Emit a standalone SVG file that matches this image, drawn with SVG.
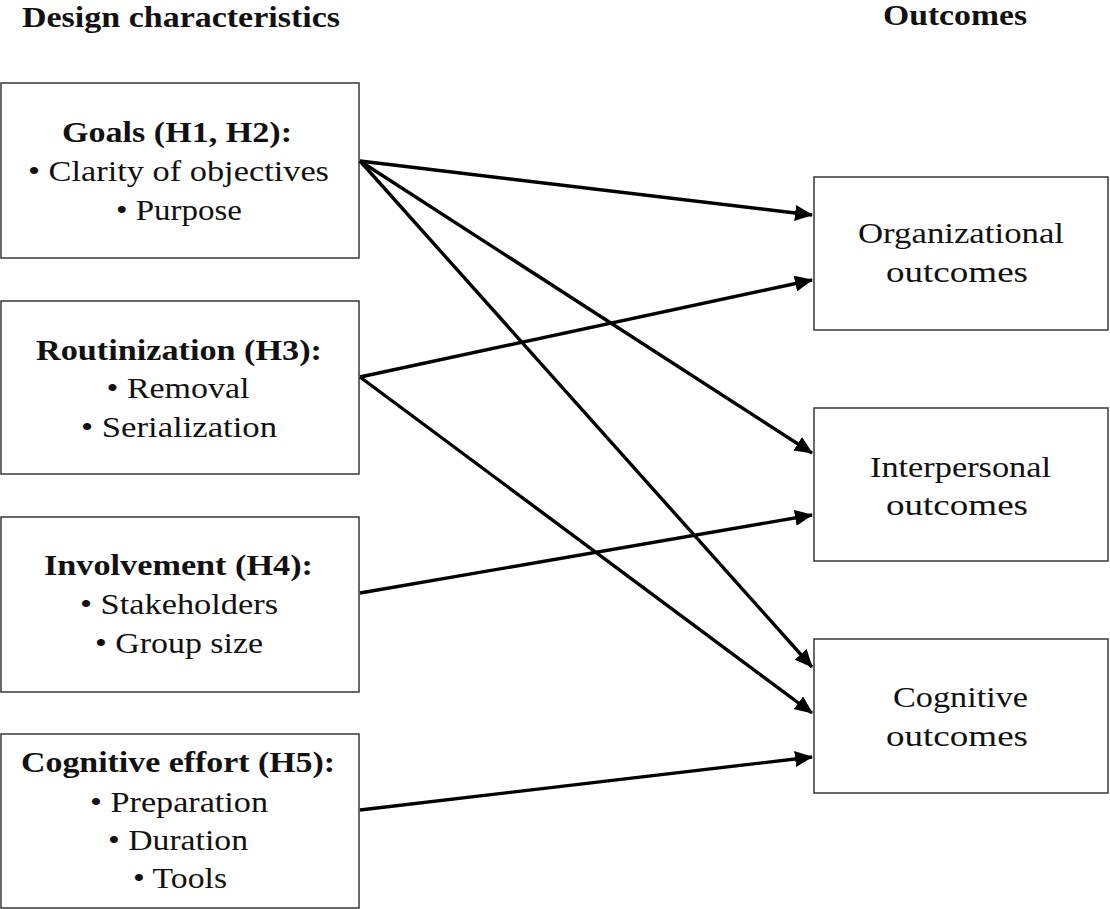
<svg xmlns="http://www.w3.org/2000/svg" width="1110" height="909" viewBox="0 0 1110 909">
<style>
.box{fill:#fff;stroke:#444;stroke-width:1.6}
.t{font-family:"Liberation Serif","Times New Roman",serif;font-size:30px;fill:#111;text-anchor:middle}
.b{font-weight:bold}
.c{stroke:#000;stroke-width:3.4;fill:none;marker-end:url(#ah)}
</style>
<defs>
<marker id="ah" markerUnits="userSpaceOnUse" markerWidth="18" markerHeight="16" refX="17" refY="8" orient="auto">
<path d="M0,0 L18,8 L0,16 Z" fill="#000"/>
</marker>
</defs>
<rect width="1110" height="909" fill="#fff"/>
<text class="t b" x="181" y="27" textLength="318" lengthAdjust="spacingAndGlyphs">Design characteristics</text>
<text class="t b" x="955" y="25" textLength="144" lengthAdjust="spacingAndGlyphs">Outcomes</text>
<g id="goals">
<rect class="box" x="1" y="83" width="358" height="175"/>
<text class="t b" x="177" y="142" textLength="230" lengthAdjust="spacingAndGlyphs">Goals (H1, H2):</text>
<text class="t" x="178.5" y="181" textLength="301" lengthAdjust="spacingAndGlyphs">• Clarity of objectives</text>
<text class="t" x="179" y="220" textLength="126" lengthAdjust="spacingAndGlyphs">• Purpose</text>
</g>
<g id="routinization">
<rect class="box" x="1" y="301" width="358" height="173"/>
<text class="t b" x="179" y="360" textLength="286" lengthAdjust="spacingAndGlyphs">Routinization (H3):</text>
<text class="t" x="178" y="398" textLength="143" lengthAdjust="spacingAndGlyphs">• Removal</text>
<text class="t" x="179" y="437" textLength="196" lengthAdjust="spacingAndGlyphs">• Serialization</text>
</g>
<g id="involvement">
<rect class="box" x="1" y="517" width="358" height="175"/>
<text class="t b" x="178.5" y="575" textLength="269" lengthAdjust="spacingAndGlyphs">Involvement (H4):</text>
<text class="t" x="179" y="614" textLength="198" lengthAdjust="spacingAndGlyphs">• Stakeholders</text>
<text class="t" x="179" y="653" textLength="168" lengthAdjust="spacingAndGlyphs">• Group size</text>
</g>
<g id="effort">
<rect class="box" x="1" y="734" width="358" height="174"/>
<text class="t b" x="178" y="772" textLength="314" lengthAdjust="spacingAndGlyphs">Cognitive effort (H5):</text>
<text class="t" x="179" y="812" textLength="178" lengthAdjust="spacingAndGlyphs">• Preparation</text>
<text class="t" x="178" y="850" textLength="140" lengthAdjust="spacingAndGlyphs">• Duration</text>
<text class="t" x="180" y="888" textLength="94" lengthAdjust="spacingAndGlyphs">• Tools</text>
</g>
<g id="org">
<rect class="box" x="814" y="177" width="294" height="153"/>
<text class="t" x="961" y="243" textLength="206" lengthAdjust="spacingAndGlyphs">Organizational</text>
<text class="t" x="957" y="282" textLength="142" lengthAdjust="spacingAndGlyphs">outcomes</text>
</g>
<g id="interp">
<rect class="box" x="814" y="408" width="294" height="153"/>
<text class="t" x="960.5" y="477" textLength="181" lengthAdjust="spacingAndGlyphs">Interpersonal</text>
<text class="t" x="957" y="515" textLength="142" lengthAdjust="spacingAndGlyphs">outcomes</text>
</g>
<g id="cog">
<rect class="box" x="814" y="639" width="294" height="154"/>
<text class="t" x="960.5" y="707" textLength="135" lengthAdjust="spacingAndGlyphs">Cognitive</text>
<text class="t" x="957" y="746" textLength="142" lengthAdjust="spacingAndGlyphs">outcomes</text>
</g>
<g id="connectors">
<line class="c" x1="360" y1="161" x2="812" y2="215"/>
<line class="c" x1="360" y1="161" x2="812" y2="453"/>
<line class="c" x1="360" y1="161" x2="812" y2="667"/>
<line class="c" x1="360" y1="377" x2="812" y2="280"/>
<line class="c" x1="360" y1="377" x2="812" y2="713"/>
<line class="c" x1="360" y1="593" x2="812" y2="515"/>
<line class="c" x1="360" y1="810" x2="812" y2="757"/>
</g>
</svg>
